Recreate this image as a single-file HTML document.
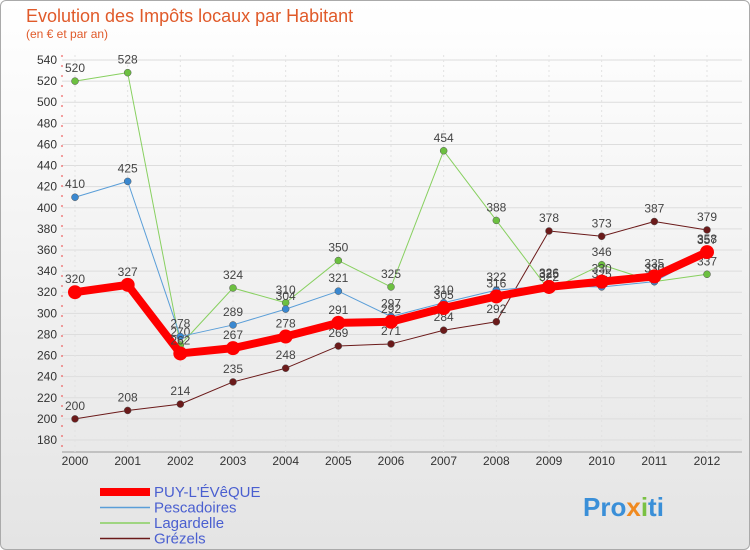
<!DOCTYPE html>
<html><head><meta charset="utf-8"><style>
body{margin:0;background:#fff;font-family:"Liberation Sans",sans-serif}
#wrap{position:relative;width:748px;height:548px;border:1px solid #aaa;border-radius:6px;background:linear-gradient(#fff,#e4e4e4);overflow:hidden}
</style></head><body>
<div id="wrap">
<svg id="chart" width="750" height="550" style="position:absolute;left:-1px;top:-1px">
<text x="26" y="22" font-size="18" fill="#e05a2a" font-weight="300">Evolution des Impôts locaux par Habitant</text>
<text x="26" y="38" font-size="12" fill="#e05a2a">(en € et par an)</text>
<g id="grid"></g><g id="series"></g><g id="legend"></g>
<text x="583" y="516" font-size="26" font-weight="bold" fill="#3a8fd8">Pro<tspan fill="#f08a20">x</tspan><tspan fill="#7ac143">i</tspan>ti</text>
</svg></div>
<script>
const years=[2000,2001,2002,2003,2004,2005,2006,2007,2008,2009,2010,2011,2012];
const yTicks=[180,200,220,240,260,280,300,320,340,360,380,400,420,440,460,480,500,520,540];
const puy=[320,327,262,267,278,291,292,305,316,325,330,335,358];
const pescadoires=[410,425,278,289,304,321,297,310,322,326,325,330,357];
const lagardelle=[520,528,270,324,310,350,325,454,388,322,346,330,337];
const grezels=[200,208,214,235,248,269,271,284,292,378,373,387,379];
const NS="http://www.w3.org/2000/svg";
const X=i=>75+i*(632/12), Y=v=>440-(v-180)*380/360;
function mk(t,a,p){const e=document.createElementNS(NS,t);for(const k in a)e.setAttribute(k,a[k]);p.appendChild(e);return e;}
const g=document.getElementById('grid');
yTicks.forEach(v=>{
 const l=mk('line',{x1:62,x2:742,y1:Y(v),y2:Y(v),stroke:'#ddd','stroke-width':1},g);
 
 
 const t=mk('text',{x:57,y:Y(v)+4,'font-size':12,'text-anchor':'end',fill:'#333'},g);t.textContent=v;
 
 
});
mk('line',{x1:62,x2:62,y1:55,y2:452,stroke:'#e44','stroke-width':1,'stroke-dasharray':'2,8'},g);
mk('line',{x1:62,x2:742,y1:452,y2:452,stroke:'#999'},g);
years.forEach((y,i)=>{
 mk('line',{x1:X(i),x2:X(i),y1:55,y2:452,stroke:'#e2e2e2','stroke-dasharray':'2,3'},g);
 const t=mk('text',{x:X(i),y:465,'font-size':12,'text-anchor':'middle',fill:'#333'},g);t.textContent=y;
 
 
});
const S=document.getElementById('series');
const defs=[[grezels,'#6b1a1a','#6b1a1a',1,3.5,'grezels','Grézels'],[lagardelle,'#88d060','#6cc040',1,3.5,'lagardelle','Lagardelle'],[pescadoires,'#5a9ed8','#3a88d0',1,3.5,'pescadoires','Pescadoires'],[puy,'#ff0000','#ff0000',8,7,'puy-l-eveque',"PUY-L'ÉVêQUE"]];
defs.forEach(([d,c,pc,w,r,n])=>{
 const p=mk('polyline',{points:d.map((v,i)=>X(i)+','+Y(v)).join(' '),fill:'none',stroke:c,'stroke-width':w,'stroke-linejoin':'round'},S);
 
 
 d.forEach((v,i)=>{
  const ci=mk('circle',{cx:X(i),cy:Y(v),r:r,fill:pc,stroke:w>1?'none':'#555','stroke-width':0.5},S);
  
  
  const t=mk('text',{x:X(i),y:Y(v)-9,'font-size':12,'text-anchor':'middle',fill:'#444'},S);t.textContent=v;
  
  
 });
});
const L=document.getElementById('legend');
[[3,0],[2,1],[1,2],[0,3]].forEach(([k,row])=>{
 const dd=defs[k],y=492+row*15.5;
 const l=mk('line',{x1:100,x2:150,y1:y,y2:y,stroke:dd[1],'stroke-width':k==3?8:1.5},L);
 
 
 const t=mk('text',{x:154,y:y+5,'font-size':15,fill:'#4a5fd0'},L);t.textContent=dd[6];
 
 
});
</script></body></html>
